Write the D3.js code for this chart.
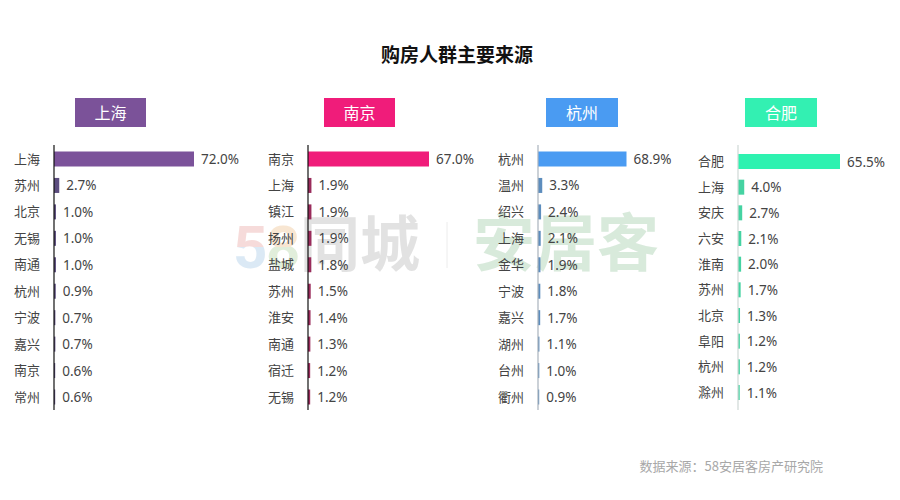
<!DOCTYPE html>
<html><head><meta charset="utf-8">
<script src="https://cdn.jsdelivr.net/npm/d3@7"></script>
<style>
html,body{margin:0;padding:0;background:#fff;}
svg{display:block;font-family:"Noto Sans CJK SC","Noto Sans",sans-serif;}
</style></head>
<body><svg id="chart" width="900" height="500"></svg>
<script>
const title = "购房人群主要来源";
const source = "数据来源：58安居客房产研究院";
const panelNames = ["上海", "南京", "杭州", "合肥"];

const shCities = ["上海","苏州","北京","无锡","南通","杭州","宁波","嘉兴","南京","常州"];
const shValues = [72.0,2.7,1.0,1.0,1.0,0.9,0.7,0.7,0.6,0.6];
const njCities = ["南京","上海","镇江","扬州","盐城","苏州","淮安","南通","宿迁","无锡"];
const njValues = [67.0,1.9,1.9,1.9,1.8,1.5,1.4,1.3,1.2,1.2];
const hzCities = ["杭州","温州","绍兴","上海","金华","宁波","嘉兴","湖州","台州","衢州"];
const hzValues = [68.9,3.3,2.4,2.1,1.9,1.8,1.7,1.1,1.0,0.9];
const hfCities = ["合肥","上海","安庆","六安","淮南","苏州","北京","阜阳","杭州","滁州"];
const hfValues = [65.5,4.0,2.7,2.1,2.0,1.7,1.3,1.2,1.2,1.1];

const panelData = [
  {cities: shCities, values: shValues},
  {cities: njCities, values: njValues},
  {cities: hzCities, values: hzValues},
  {cities: hfCities, values: hfValues}
];

// layout / style per panel
const layout = [
  {axisX: 54,  width: 140, y0: 159, y1: 397, box: [75, 146],  head: "#7b5299", main: "#7b529a", small: "#5c4d7f", axis: "#111"},
  {axisX: 308, width: 121, y0: 159, y1: 397, box: [324, 395], head: "#f01c7a", main: "#f01c7a", small: "#9a2c5c", axis: "#111"},
  {axisX: 538, width: 88.5, y0: 159, y1: 397, box: [546, 618], head: "#4a9bf2", main: "#4a9bf2", small: "#5d8dbd", axis: "#a9b2bd"},
  {axisX: 738, width: 102, y0: 161.5, y1: 392.5, box: [745, 817], head: "#33f0b2", main: "#2ef2b0", small: "#45d3a2", axis: "#cfd8d5"}
];

const svg = d3.select("#chart");
const defs = svg.append("defs");
function grad(id, c1, c2) {
  const lg = defs.append("linearGradient").attr("id", id).attr("x1", 0).attr("y1", 0).attr("x2", 0).attr("y2", 1);
  lg.append("stop").attr("offset", "0%").attr("stop-color", c1);
  lg.append("stop").attr("offset", "50%").attr("stop-color", c1);
  lg.append("stop").attr("offset", "50%").attr("stop-color", c2);
  lg.append("stop").attr("offset", "100%").attr("stop-color", c2);
}
grad("g5", "#efb9b6", "#b9d5ec");
grad("g8", "#f3cfa6", "#c4dfb8");

// watermark
const wm = svg.append("g").attr("opacity", 0.5).style("font-weight", "bold");
wm.append("text").attr("x", 233).attr("y", 268).attr("font-size", 60).attr("fill", "url(#g5)").style("font-family", "Roboto, sans-serif").text("5");
wm.append("text").attr("x", 266).attr("y", 268).attr("font-size", 60).attr("fill", "url(#g8)").style("font-family", "Roboto, sans-serif").text("8");
wm.append("text").attr("x", 300).attr("y", 266).attr("font-size", 60).attr("fill", "#c6c6c6").text("同城");
wm.append("line").attr("x1", 447).attr("x2", 447).attr("y1", 222).attr("y2", 268).attr("stroke", "#dcdcdc").attr("stroke-width", 1);
wm.append("text").attr("x", 473).attr("y", 266).attr("font-size", 62).attr("fill", "#b3d6b9").text("安居客");

// title
svg.append("text").attr("x", 457).attr("y", 62).attr("text-anchor", "middle")
  .attr("font-size", 19).attr("font-weight", "bold").attr("fill", "#111").text(title);

panelData.forEach((d, i) => {
  const L = layout[i];
  const g = svg.append("g");
  const x = d3.scaleLinear().domain([0, d3.max(d.values)]).range([L.axisX, L.axisX + L.width]);
  const y = d3.scalePoint().domain(d.cities).range([L.y0, L.y1]);
  const rows = d.cities.map((c, k) => ({city: c, value: d.values[k], k}));

  // header box
  g.append("rect").attr("x", L.box[0]).attr("y", 98).attr("width", L.box[1] - L.box[0]).attr("height", 29).attr("fill", L.head);
  g.append("text").attr("x", (L.box[0] + L.box[1]) / 2).attr("y", 118.5).attr("text-anchor", "middle")
    .attr("font-size", 16).attr("fill", "#fff").text(panelNames[i]);

  // bars
  g.selectAll("rect.bar").data(rows).join("rect").attr("class", "bar")
    .attr("x", x(0)).attr("y", r => y(r.city) - 7.5)
    .attr("width", r => Math.max(1.2, x(r.value) - x(0))).attr("height", 15)
    .attr("fill", r => r.k === 0 ? L.main : L.small);

  // axis line (y axis without ticks)
  const yAxis = d3.axisLeft(y).tickSize(0).tickPadding(0).tickFormat("");
  const ag = g.append("g").attr("transform", `translate(${L.axisX},0)`).call(yAxis);
  ag.select(".domain").attr("d", `M0,145V410`).attr("stroke", L.axis).attr("stroke-width", 1.2);

  // category labels
  g.selectAll("text.cat").data(rows).join("text").attr("class", "cat")
    .attr("x", L.axisX - 14).attr("y", r => y(r.city) + 4.5).attr("text-anchor", "end")
    .attr("font-size", 13).attr("fill", "#444").text(r => r.city);

  // value labels
  g.selectAll("text.val").data(rows).join("text").attr("class", "val")
    .attr("x", r => Math.max(x(r.value), x(0) + 1.2) + 7).attr("y", r => y(r.city) + 5)
    .attr("font-size", 13.5).attr("fill", "#444").style("font-family", "'Noto Sans','Noto Sans CJK SC',sans-serif")
    .text(r => r.value.toFixed(1) + "%");
});

// source
svg.append("text").attr("x", 823).attr("y", 471).attr("text-anchor", "end")
  .attr("font-size", 13).attr("fill", "#a8a8a8").text(source);
</script></body></html>
